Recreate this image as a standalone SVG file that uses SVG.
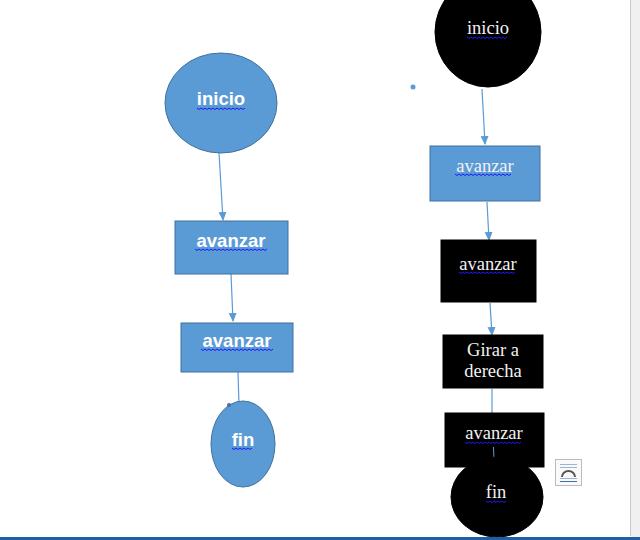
<svg xmlns="http://www.w3.org/2000/svg" width="640" height="540" viewBox="0 0 640 540">
<defs>
<style>
.bn{fill:#5b9bd5;stroke:#41719c;stroke-width:1}
.kn{fill:#000;stroke:#000;stroke-width:1}
.ls{font-family:"Liberation Sans",Arial,sans-serif;font-weight:bold;font-size:18.5px;fill:#fff;text-anchor:middle}
.rs{font-family:"Liberation Serif","Times New Roman",serif;font-size:18.5px;fill:#f2f2f2;text-anchor:middle}
.sq{fill:none;stroke:#1a1aff;stroke-width:1}
.cn{stroke:#5b9bd5;stroke-width:1.2;fill:none}
</style>
<marker id="ah" markerWidth="10" markerHeight="10" refX="8" refY="5" orient="auto" markerUnits="userSpaceOnUse">
<path d="M0,1 L9,5 L0,9 z" fill="#5b9bd5"/>
</marker>
</defs>
<rect x="0" y="0" width="640" height="540" fill="#fff"/>
<rect x="631" y="0" width="9" height="540" fill="#f0f0f0"/>
<line x1="630.5" y1="0" x2="630.5" y2="536" stroke="#c8c8c8" stroke-width="1"/>
<g id="connectors">
<line class="cn" x1="219" y1="153" x2="223" y2="220" marker-end="url(#ah)"/>
<line class="cn" x1="231" y1="274" x2="233" y2="321" marker-end="url(#ah)"/>
<line class="cn" x1="238" y1="372" x2="239" y2="405"/>
<line class="cn" x1="482" y1="89" x2="485" y2="144" marker-end="url(#ah)"/>
<line class="cn" x1="487" y1="202" x2="489" y2="240" marker-end="url(#ah)"/>
<line class="cn" x1="490" y1="303" x2="492" y2="335" marker-end="url(#ah)"/>
<line class="cn" x1="492" y1="389" x2="492" y2="413"/>
</g>
<g id="n_inicio_l">
<ellipse class="bn" cx="221" cy="103" rx="56" ry="50"/>
<text class="ls" x="221" y="105">inicio</text>
<path class="sq" d="M197,108 l2,1.5 l2,-1.5 l2,1.5 l2,-1.5 l2,1.5 l2,-1.5 l2,1.5 l2,-1.5 l2,1.5 l2,-1.5 l2,1.5 l2,-1.5 l2,1.5 l2,-1.5 l2,1.5 l2,-1.5 l2,1.5 l2,-1.5 l2,1.5 l2,-1.5 l2,1.5 l2,-1.5 l2,1.5 l2,-1.5"/>
</g>
<g id="n_av1_l">
<rect class="bn" x="175" y="221" width="113" height="53"/>
<text class="ls" x="231" y="247">avanzar</text>
<path class="sq" d="M195,249 l2,1.5 l2,-1.5 l2,1.5 l2,-1.5 l2,1.5 l2,-1.5 l2,1.5 l2,-1.5 l2,1.5 l2,-1.5 l2,1.5 l2,-1.5 l2,1.5 l2,-1.5 l2,1.5 l2,-1.5 l2,1.5 l2,-1.5 l2,1.5 l2,-1.5 l2,1.5 l2,-1.5 l2,1.5 l2,-1.5 l2,1.5 l2,-1.5 l2,1.5 l2,-1.5 l2,1.5 l2,-1.5 l2,1.5 l2,-1.5 l2,1.5 l2,-1.5 l2,1.5 l2,-1.5"/>
</g>
<g id="n_av2_l">
<rect class="bn" x="181" y="323" width="112" height="49"/>
<text class="ls" x="237" y="347">avanzar</text>
<path class="sq" d="M201,349 l2,1.5 l2,-1.5 l2,1.5 l2,-1.5 l2,1.5 l2,-1.5 l2,1.5 l2,-1.5 l2,1.5 l2,-1.5 l2,1.5 l2,-1.5 l2,1.5 l2,-1.5 l2,1.5 l2,-1.5 l2,1.5 l2,-1.5 l2,1.5 l2,-1.5 l2,1.5 l2,-1.5 l2,1.5 l2,-1.5 l2,1.5 l2,-1.5 l2,1.5 l2,-1.5 l2,1.5 l2,-1.5 l2,1.5 l2,-1.5 l2,1.5 l2,-1.5 l2,1.5 l2,-1.5"/>
</g>
<g id="n_fin_l">
<ellipse class="bn" cx="243" cy="444" rx="32" ry="43"/>
<circle cx="229" cy="405" r="2" fill="#41719c"/>
<text class="ls" x="243" y="446">fin</text>
<path class="sq" d="M232,448 l2,1.5 l2,-1.5 l2,1.5 l2,-1.5 l2,1.5 l2,-1.5 l2,1.5 l2,-1.5 l2,1.5 l2,-1.5"/>
</g>
<g id="n_inicio_r">
<ellipse class="kn" cx="488" cy="32" rx="53" ry="55"/>
<text class="rs" x="488" y="34">inicio</text>
<path class="sq" d="M467,37 l2,1.5 l2,-1.5 l2,1.5 l2,-1.5 l2,1.5 l2,-1.5 l2,1.5 l2,-1.5 l2,1.5 l2,-1.5 l2,1.5 l2,-1.5 l2,1.5 l2,-1.5 l2,1.5 l2,-1.5 l2,1.5 l2,-1.5 l2,1.5 l2,-1.5"/>
</g>
<g id="n_av1_r">
<rect class="bn" x="430" y="146" width="110" height="55"/>
<text class="rs" x="485" y="172">avanzar</text>
<path class="sq" d="M455,174 l2,1.5 l2,-1.5 l2,1.5 l2,-1.5 l2,1.5 l2,-1.5 l2,1.5 l2,-1.5 l2,1.5 l2,-1.5 l2,1.5 l2,-1.5 l2,1.5 l2,-1.5 l2,1.5 l2,-1.5 l2,1.5 l2,-1.5 l2,1.5 l2,-1.5 l2,1.5 l2,-1.5 l2,1.5 l2,-1.5 l2,1.5 l2,-1.5 l2,1.5 l2,-1.5"/>
</g>
<g id="n_av2_r">
<rect class="kn" x="441" y="240" width="95" height="62"/>
<text class="rs" x="488" y="270">avanzar</text>
<path class="sq" d="M459,272 l2,1.5 l2,-1.5 l2,1.5 l2,-1.5 l2,1.5 l2,-1.5 l2,1.5 l2,-1.5 l2,1.5 l2,-1.5 l2,1.5 l2,-1.5 l2,1.5 l2,-1.5 l2,1.5 l2,-1.5 l2,1.5 l2,-1.5 l2,1.5 l2,-1.5 l2,1.5 l2,-1.5 l2,1.5 l2,-1.5 l2,1.5 l2,-1.5 l2,1.5 l2,-1.5"/>
</g>
<g id="n_girar_r">
<rect class="kn" x="443" y="335" width="100" height="53"/>
<text class="rs" x="493" y="356">Girar a</text>
<text class="rs" x="493" y="377">derecha</text>
</g>
<g id="n_av3_r">
<rect class="kn" x="445" y="413" width="99" height="54"/>
<text class="rs" x="494" y="439">avanzar</text>
<path class="sq" d="M465,442 l2,1.5 l2,-1.5 l2,1.5 l2,-1.5 l2,1.5 l2,-1.5 l2,1.5 l2,-1.5 l2,1.5 l2,-1.5 l2,1.5 l2,-1.5 l2,1.5 l2,-1.5 l2,1.5 l2,-1.5 l2,1.5 l2,-1.5 l2,1.5 l2,-1.5 l2,1.5 l2,-1.5 l2,1.5 l2,-1.5 l2,1.5 l2,-1.5 l2,1.5 l2,-1.5"/>
<line x1="493.5" y1="447" x2="494" y2="460" stroke="#5b9bd5" stroke-width="1"/>
</g>
<g id="n_fin_r">
<ellipse class="kn" cx="497" cy="497" rx="46" ry="40"/>
<text class="rs" x="496" y="498">fin</text>
<path class="sq" d="M486,501 l2,1.5 l2,-1.5 l2,1.5 l2,-1.5 l2,1.5 l2,-1.5 l2,1.5 l2,-1.5 l2,1.5 l2,-1.5"/>
</g>
<circle cx="413" cy="87" r="2.5" fill="#5b9bd5"/>
<g id="layout_icon">
<rect x="555.5" y="459.5" width="26" height="26" fill="#fafafa" stroke="#bcbcbc"/>
<line x1="560" y1="464.5" x2="577" y2="464.5" stroke="#9bb3d4"/>
<line x1="560" y1="467.5" x2="577" y2="467.5" stroke="#9bb3d4"/>
<path d="M562,477 a6.5,6 0 0 1 13,0" fill="none" stroke="#555" stroke-width="2"/>
<line x1="560" y1="478.5" x2="577" y2="478.5" stroke="#9bb3d4"/>
<line x1="560" y1="481.5" x2="577" y2="481.5" stroke="#3a6fb7"/>
</g>
<rect x="0" y="537" width="640" height="3" fill="#1f5fa8"/>
</svg>
